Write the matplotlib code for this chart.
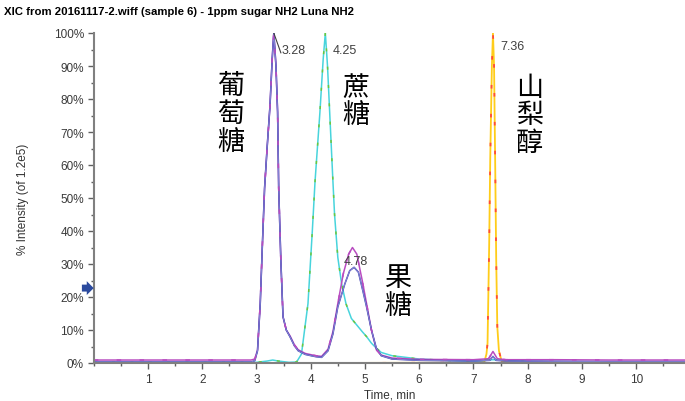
import matplotlib
matplotlib.use('Agg')
import matplotlib.pyplot as plt
from matplotlib.ticker import MultipleLocator, FuncFormatter

## 資料 (從圖上讀出的點, time min / % intensity)
navy_t = [0, 1, 2, 2.9, 2.97, 3.02, 3.07, 3.11, 3.15, 3.2, 3.25, 3.29, 3.32, 3.36, 3.39, 3.41, 3.45, 3.49,
          3.55, 3.62, 3.7, 3.77, 3.9, 4.01, 4.1, 4.2, 4.32, 4.41, 4.5, 4.63, 4.72, 4.8, 4.88, 4.96, 5.03,
          5.12, 5.21, 5.3, 5.5, 6.0, 7.0, 7.3, 7.36, 7.42, 7.6, 8.5, 9.5, 10.9]
navy_v = [0.3, 0.3, 0.3, 0.3, 0.7, 3.7, 18, 36, 53, 66, 78, 92, 100, 90, 76, 53, 31, 14,
          10, 7.9, 5.2, 3.7, 2.6, 2.2, 1.9, 1.7, 3.7, 8.8, 17, 24, 28, 29, 27.5, 22, 17,
          10, 4.5, 2.2, 1.2, 0.8, 0.6, 0.8, 2.0, 0.8, 0.6, 0.5, 0.4, 0.4]

magenta_t = [0, 1, 2, 2.9, 2.97, 3.02, 3.07, 3.11, 3.15, 3.2, 3.25, 3.29, 3.32, 3.36, 3.39, 3.41, 3.45, 3.49,
             3.55, 3.62, 3.7, 3.77, 3.9, 4.01, 4.1, 4.2, 4.32, 4.41, 4.5, 4.6, 4.7, 4.77, 4.85, 4.95, 5.03,
             5.12, 5.21, 5.3, 5.5, 6.0, 7.0, 7.28, 7.36, 7.44, 7.6, 8.5, 9.5, 10.9]
magenta_v = [0.9, 0.9, 0.9, 0.9, 1.2, 4.0, 18, 36, 53, 66, 78, 92, 100, 90, 76, 53, 31, 14,
             10, 8.2, 5.5, 4.0, 2.9, 2.5, 2.2, 2.0, 4.2, 9.5, 18, 27, 33, 35, 33, 25, 18,
             10, 4.0, 2.4, 1.5, 1.1, 1.0, 1.3, 3.5, 1.3, 1.0, 1.0, 0.9, 0.9]

cyan_t = [0, 2, 3.0, 3.2, 3.3, 3.4, 3.6, 3.74, 3.83, 3.95, 4.03, 4.08, 4.17, 4.23, 4.27, 4.31, 4.35,
          4.41, 4.44, 4.5, 4.57, 4.65, 4.75, 4.85, 4.95, 5.03, 5.12, 5.21, 5.3, 5.5, 5.76,
          6.0, 6.5, 7.0, 7.36, 8.0, 10.9]
cyan_v = [0.2, 0.2, 0.2, 0.6, 0.9, 0.6, 0.2, 0.3, 2.7, 18, 40, 55, 76, 92, 100, 90, 76,
          55, 45, 32, 24, 18, 13.5, 11.5, 9.5, 8, 6, 4.5, 3.2, 2.2, 1.7,
          1.2, 0.8, 0.5, 1.0, 0.4, 0.3]

yellow_t = [0, 4.0, 7.0, 7.2, 7.24, 7.26, 7.29, 7.31, 7.34, 7.36, 7.38, 7.40, 7.42,
            7.44, 7.47, 7.52, 8.0, 10.9]
yellow_v = [0, 0, 0.1, 0.3, 2.7, 6, 35.5, 62, 90, 100, 90, 62, 31,
            11, 3.7, 0.5, 0.1, 0.1]

peak_labels = ["3.28", "4.25", "4.78", "7.36"]
yticks = [0, 10, 20, 30, 40, 50, 60, 70, 80, 90, 100]
xticks = [1, 2, 3, 4, 5, 6, 7, 8, 9, 10]

W, H = 685, 402
fig = plt.figure(figsize=(W / 100, H / 100), dpi=100)
ax = fig.add_axes([93.7 / W, 1 - 364 / H, (W - 93.7) / W, 330 / H])

## 畫線 (實線 + 疊上的虛線)
ax.plot(yellow_t, yellow_v, color='#ffcc1a', lw=1.3)
ax.plot(yellow_t, yellow_v, color='#ff4a3a', lw=1.3, dashes=(2, 14))
ax.plot(cyan_t, cyan_v, color='#48d4dc', lw=1.1)
ax.plot(cyan_t, cyan_v, color='#6cc83c', lw=1.1, dashes=(2, 10))
ax.plot(magenta_t, magenta_v, color='#b84cc0', lw=1.1)
ax.plot(navy_t, navy_v, color='#3a3ab0', lw=1.1)
ax.plot(navy_t, navy_v, color='#9090d8', lw=0.6)
ax.plot(magenta_t, magenta_v, color='#b84cc0', lw=1.1, dashes=(3, 12))

ax.set_xlim(0, 10.9)
ax.set_ylim(0, 100)

## 軸
for s in ['top', 'right']:
    ax.spines[s].set_visible(False)
for s in ['left', 'bottom']:
    ax.spines[s].set_color('#808080')
    ax.spines[s].set_linewidth(1.5)

ax.set_xticks(xticks)
ax.set_yticks(yticks)
ax.xaxis.set_minor_locator(MultipleLocator(0.5))
ax.yaxis.set_minor_locator(MultipleLocator(5))
ax.yaxis.set_major_formatter(FuncFormatter(lambda v, p: f"{v:.0f}%"))
ax.tick_params(which='major', length=4, width=1, color='#606060', labelsize=8.5,
               labelcolor='#3a3a3a', labelfontfamily='Liberation Sans', pad=3)
ax.tick_params(which='minor', length=2.5, width=1, color='#606060')

ax.set_xlabel("Time, min", fontsize=8.5, family='Liberation Sans', color='#333333', labelpad=3)
ax.set_ylabel("% Intensity (of 1.2e5)", fontsize=8.5, family='Liberation Sans', color='#333333', labelpad=18)

## 標題
fig.text(4 / W, 1 - 12 / H, "XIC from 20161117-2.wiff (sample 6) - 1ppm sugar NH2 Luna NH2",
         fontsize=8.2, weight='bold', family='Liberation Sans', va='center', ha='left')

## 峰值標籤
ax.plot([3.32, 3.45], [100, 94], color='#404040', lw=0.8)
lab_pos = [(3.47, 95), (4.4, 95), (4.6, 31), (7.5, 96)]
for txt, (x, y) in zip(peak_labels, lab_pos):
    ax.text(x, y, txt, fontsize=9, family='Liberation Sans', color='#404040', va='center', ha='left')

## 中文標註
names = [("葡萄糖", 2.53, 84), ("蔗糖", 4.83, 83.6), ("山梨醇", 8.03, 83.6), ("果糖", 5.6, 25.8)]
for name, x, y in names:
    for i, ch in enumerate(name):
        ax.text(x, y - i * 8.4, ch, fontsize=19.5, family='Noto Sans CJK TC', ha='center', va='center')

## 左邊箭頭
ax.annotate('', xy=(0, 22.7), xycoords='data', xytext=(-8.5, 0), textcoords='offset points',
            arrowprops=dict(arrowstyle='simple,head_width=1.0,head_length=0.5,tail_width=0.5',
                            color='#2b4a9e', lw=0, shrinkA=0, shrinkB=0), annotation_clip=False)

fig.savefig('out.png', dpi=100)
